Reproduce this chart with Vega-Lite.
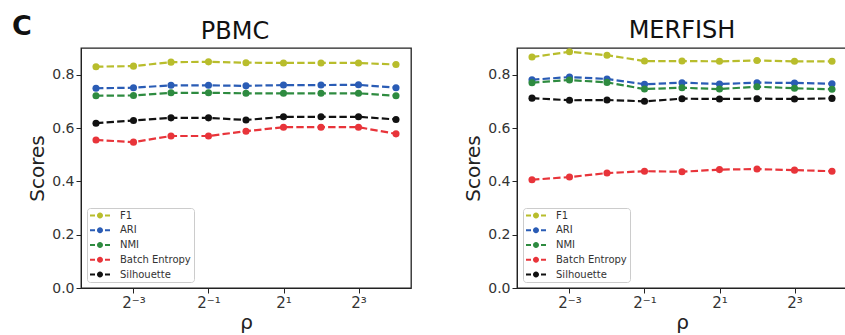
{
  "$schema": "https://vega.github.io/schema/vega-lite/v6.json",
  "padding": {"left": 12, "top": 12, "right": 0, "bottom": 0},
  "background": "white",
  "title": {"text": "C", "anchor": "start", "frame": "bounds", "fontSize": 27, "fontWeight": "bold", "font": "DejaVu Sans", "color": "#111", "offset": -22, "dx": -15},
  "config": {
    "font": "DejaVu Sans",
    "view": {"stroke": "#222", "strokeWidth": 1.3},
    "axis": {"grid": false, "domainColor": "#222", "tickColor": "#222", "tickSize": 5, "labelFontSize": 14, "labelColor": "#333", "titleColor": "#222", "titleFontSize": 20, "titleFontWeight": "normal", "labelPadding": 2},
    "legend": {"orient": "bottom-left", "offset": 6, "padding": 2.5, "strokeColor": "#ccc", "cornerRadius": 3, "fillColor": "white", "labelFontSize": 10, "labelColor": "#333", "labelOffset": 15, "symbolOffset": 5.5, "rowPadding": 4.75, "symbolSize": 100, "symbolStrokeWidth": 0, "title": null}
  },
  "datasets": {
    "scores": [
      {"panel": "PBMC", "metric": "F1", "rho": 0.0625, "score": 0.830},
      {"panel": "PBMC", "metric": "F1", "rho": 0.125, "score": 0.832},
      {"panel": "PBMC", "metric": "F1", "rho": 0.25, "score": 0.847},
      {"panel": "PBMC", "metric": "F1", "rho": 0.5, "score": 0.848},
      {"panel": "PBMC", "metric": "F1", "rho": 1, "score": 0.845},
      {"panel": "PBMC", "metric": "F1", "rho": 2, "score": 0.844},
      {"panel": "PBMC", "metric": "F1", "rho": 4, "score": 0.844},
      {"panel": "PBMC", "metric": "F1", "rho": 8, "score": 0.844},
      {"panel": "PBMC", "metric": "F1", "rho": 16, "score": 0.838},
      {"panel": "PBMC", "metric": "ARI", "rho": 0.0625, "score": 0.749},
      {"panel": "PBMC", "metric": "ARI", "rho": 0.125, "score": 0.751},
      {"panel": "PBMC", "metric": "ARI", "rho": 0.25, "score": 0.760},
      {"panel": "PBMC", "metric": "ARI", "rho": 0.5, "score": 0.760},
      {"panel": "PBMC", "metric": "ARI", "rho": 1, "score": 0.758},
      {"panel": "PBMC", "metric": "ARI", "rho": 2, "score": 0.761},
      {"panel": "PBMC", "metric": "ARI", "rho": 4, "score": 0.761},
      {"panel": "PBMC", "metric": "ARI", "rho": 8, "score": 0.762},
      {"panel": "PBMC", "metric": "ARI", "rho": 16, "score": 0.751},
      {"panel": "PBMC", "metric": "NMI", "rho": 0.0625, "score": 0.721},
      {"panel": "PBMC", "metric": "NMI", "rho": 0.125, "score": 0.722},
      {"panel": "PBMC", "metric": "NMI", "rho": 0.25, "score": 0.732},
      {"panel": "PBMC", "metric": "NMI", "rho": 0.5, "score": 0.732},
      {"panel": "PBMC", "metric": "NMI", "rho": 1, "score": 0.730},
      {"panel": "PBMC", "metric": "NMI", "rho": 2, "score": 0.730},
      {"panel": "PBMC", "metric": "NMI", "rho": 4, "score": 0.730},
      {"panel": "PBMC", "metric": "NMI", "rho": 8, "score": 0.730},
      {"panel": "PBMC", "metric": "NMI", "rho": 16, "score": 0.721},
      {"panel": "PBMC", "metric": "Batch Entropy", "rho": 0.0625, "score": 0.555},
      {"panel": "PBMC", "metric": "Batch Entropy", "rho": 0.125, "score": 0.547},
      {"panel": "PBMC", "metric": "Batch Entropy", "rho": 0.25, "score": 0.570},
      {"panel": "PBMC", "metric": "Batch Entropy", "rho": 0.5, "score": 0.570},
      {"panel": "PBMC", "metric": "Batch Entropy", "rho": 1, "score": 0.588},
      {"panel": "PBMC", "metric": "Batch Entropy", "rho": 2, "score": 0.603},
      {"panel": "PBMC", "metric": "Batch Entropy", "rho": 4, "score": 0.603},
      {"panel": "PBMC", "metric": "Batch Entropy", "rho": 8, "score": 0.603},
      {"panel": "PBMC", "metric": "Batch Entropy", "rho": 16, "score": 0.578},
      {"panel": "PBMC", "metric": "Silhouette", "rho": 0.0625, "score": 0.618},
      {"panel": "PBMC", "metric": "Silhouette", "rho": 0.125, "score": 0.628},
      {"panel": "PBMC", "metric": "Silhouette", "rho": 0.25, "score": 0.638},
      {"panel": "PBMC", "metric": "Silhouette", "rho": 0.5, "score": 0.638},
      {"panel": "PBMC", "metric": "Silhouette", "rho": 1, "score": 0.630},
      {"panel": "PBMC", "metric": "Silhouette", "rho": 2, "score": 0.642},
      {"panel": "PBMC", "metric": "Silhouette", "rho": 4, "score": 0.642},
      {"panel": "PBMC", "metric": "Silhouette", "rho": 8, "score": 0.642},
      {"panel": "PBMC", "metric": "Silhouette", "rho": 16, "score": 0.632},
      {"panel": "MERFISH", "metric": "F1", "rho": 0.0625, "score": 0.866},
      {"panel": "MERFISH", "metric": "F1", "rho": 0.125, "score": 0.886},
      {"panel": "MERFISH", "metric": "F1", "rho": 0.25, "score": 0.873},
      {"panel": "MERFISH", "metric": "F1", "rho": 0.5, "score": 0.851},
      {"panel": "MERFISH", "metric": "F1", "rho": 1, "score": 0.851},
      {"panel": "MERFISH", "metric": "F1", "rho": 2, "score": 0.850},
      {"panel": "MERFISH", "metric": "F1", "rho": 4, "score": 0.853},
      {"panel": "MERFISH", "metric": "F1", "rho": 8, "score": 0.850},
      {"panel": "MERFISH", "metric": "F1", "rho": 16, "score": 0.850},
      {"panel": "MERFISH", "metric": "ARI", "rho": 0.0625, "score": 0.781},
      {"panel": "MERFISH", "metric": "ARI", "rho": 0.125, "score": 0.791},
      {"panel": "MERFISH", "metric": "ARI", "rho": 0.25, "score": 0.784},
      {"panel": "MERFISH", "metric": "ARI", "rho": 0.5, "score": 0.764},
      {"panel": "MERFISH", "metric": "ARI", "rho": 1, "score": 0.770},
      {"panel": "MERFISH", "metric": "ARI", "rho": 2, "score": 0.765},
      {"panel": "MERFISH", "metric": "ARI", "rho": 4, "score": 0.770},
      {"panel": "MERFISH", "metric": "ARI", "rho": 8, "score": 0.769},
      {"panel": "MERFISH", "metric": "ARI", "rho": 16, "score": 0.766},
      {"panel": "MERFISH", "metric": "NMI", "rho": 0.0625, "score": 0.770},
      {"panel": "MERFISH", "metric": "NMI", "rho": 0.125, "score": 0.780},
      {"panel": "MERFISH", "metric": "NMI", "rho": 0.25, "score": 0.771},
      {"panel": "MERFISH", "metric": "NMI", "rho": 0.5, "score": 0.746},
      {"panel": "MERFISH", "metric": "NMI", "rho": 1, "score": 0.751},
      {"panel": "MERFISH", "metric": "NMI", "rho": 2, "score": 0.746},
      {"panel": "MERFISH", "metric": "NMI", "rho": 4, "score": 0.755},
      {"panel": "MERFISH", "metric": "NMI", "rho": 8, "score": 0.749},
      {"panel": "MERFISH", "metric": "NMI", "rho": 16, "score": 0.745},
      {"panel": "MERFISH", "metric": "Batch Entropy", "rho": 0.0625, "score": 0.406},
      {"panel": "MERFISH", "metric": "Batch Entropy", "rho": 0.125, "score": 0.416},
      {"panel": "MERFISH", "metric": "Batch Entropy", "rho": 0.25, "score": 0.431},
      {"panel": "MERFISH", "metric": "Batch Entropy", "rho": 0.5, "score": 0.438},
      {"panel": "MERFISH", "metric": "Batch Entropy", "rho": 1, "score": 0.436},
      {"panel": "MERFISH", "metric": "Batch Entropy", "rho": 2, "score": 0.444},
      {"panel": "MERFISH", "metric": "Batch Entropy", "rho": 4, "score": 0.446},
      {"panel": "MERFISH", "metric": "Batch Entropy", "rho": 8, "score": 0.442},
      {"panel": "MERFISH", "metric": "Batch Entropy", "rho": 16, "score": 0.438},
      {"panel": "MERFISH", "metric": "Silhouette", "rho": 0.0625, "score": 0.712},
      {"panel": "MERFISH", "metric": "Silhouette", "rho": 0.125, "score": 0.704},
      {"panel": "MERFISH", "metric": "Silhouette", "rho": 0.25, "score": 0.705},
      {"panel": "MERFISH", "metric": "Silhouette", "rho": 0.5, "score": 0.700},
      {"panel": "MERFISH", "metric": "Silhouette", "rho": 1, "score": 0.710},
      {"panel": "MERFISH", "metric": "Silhouette", "rho": 2, "score": 0.709},
      {"panel": "MERFISH", "metric": "Silhouette", "rho": 4, "score": 0.710},
      {"panel": "MERFISH", "metric": "Silhouette", "rho": 8, "score": 0.709},
      {"panel": "MERFISH", "metric": "Silhouette", "rho": 16, "score": 0.711}
    ]
  },
  "spacing": 51,
  "resolve": {"scale": {"color": "independent"}, "legend": {"color": "independent"}},
  "hconcat": [
    {
      "title": {"text": "PBMC", "fontSize": 24, "fontWeight": "normal", "color": "#111", "offset": 4, "dx": -11},
      "width": 330,
      "height": 240,
      "data": {"name": "scores"},
      "transform": [{"filter": "datum.panel == 'PBMC'"}],
      "encoding": {
        "x": {"field": "rho", "type": "quantitative", "title": "ρ", "scale": {"type": "log", "base": 2, "domain": [0.04737, 21.11], "nice": false}, "axis": {"values": [0.125, 0.5, 2, 8], "labelFontSize": 15, "labelExpr": "datum.value == 0.125 ? '2⁻³' : datum.value == 0.5 ? '2⁻¹' : datum.value == 2 ? '2¹' : '2³'", "titlePadding": 2}},
        "y": {"field": "score", "type": "quantitative", "title": "Scores", "scale": {"domain": [0, 0.9], "nice": false}, "axis": {"values": [0, 0.2, 0.4, 0.6, 0.8], "format": ".1f", "titlePadding": 4}},
        "color": {"field": "metric", "type": "nominal", "scale": {"domain": ["F1", "ARI", "NMI", "Batch Entropy", "Silhouette"], "range": ["#b8bd2c", "#2a5cb5", "#2e8b40", "#e8343a", "#111111"]}, "legend": {"symbolType": "M-2,-0.2H-1V0.2H-2Z M1,-0.2H2V0.2H1Z M-0.6,0a0.6,0.6 0 1,0 1.2,0a0.6,0.6 0 1,0 -1.2,0Z"}}
      },
      "layer": [
        {"mark": {"type": "line", "strokeDash": [7.4, 3.2], "strokeWidth": 2.2}},
        {"mark": {"type": "point", "filled": true, "size": 50, "opacity": 1}}
      ]
    },
    {
      "title": {"text": "MERFISH", "fontSize": 24, "fontWeight": "normal", "color": "#111", "offset": 4},
      "width": 330,
      "height": 240,
      "data": {"name": "scores"},
      "transform": [{"filter": "datum.panel == 'MERFISH'"}],
      "encoding": {
        "x": {"field": "rho", "type": "quantitative", "title": "ρ", "scale": {"type": "log", "base": 2, "domain": [0.04737, 21.11], "nice": false}, "axis": {"values": [0.125, 0.5, 2, 8], "labelFontSize": 15, "labelExpr": "datum.value == 0.125 ? '2⁻³' : datum.value == 0.5 ? '2⁻¹' : datum.value == 2 ? '2¹' : '2³'", "titlePadding": 2}},
        "y": {"field": "score", "type": "quantitative", "title": "Scores", "scale": {"domain": [0, 0.9], "nice": false}, "axis": {"values": [0, 0.2, 0.4, 0.6, 0.8], "format": ".1f", "titlePadding": 4}},
        "color": {"field": "metric", "type": "nominal", "scale": {"domain": ["F1", "ARI", "NMI", "Batch Entropy", "Silhouette"], "range": ["#b8bd2c", "#2a5cb5", "#2e8b40", "#e8343a", "#111111"]}, "legend": {"symbolType": "M-2,-0.2H-1V0.2H-2Z M1,-0.2H2V0.2H1Z M-0.6,0a0.6,0.6 0 1,0 1.2,0a0.6,0.6 0 1,0 -1.2,0Z"}}
      },
      "layer": [
        {"mark": {"type": "line", "strokeDash": [7.4, 3.2], "strokeWidth": 2.2}},
        {"mark": {"type": "point", "filled": true, "size": 50, "opacity": 1}}
      ]
    }
  ]
}
